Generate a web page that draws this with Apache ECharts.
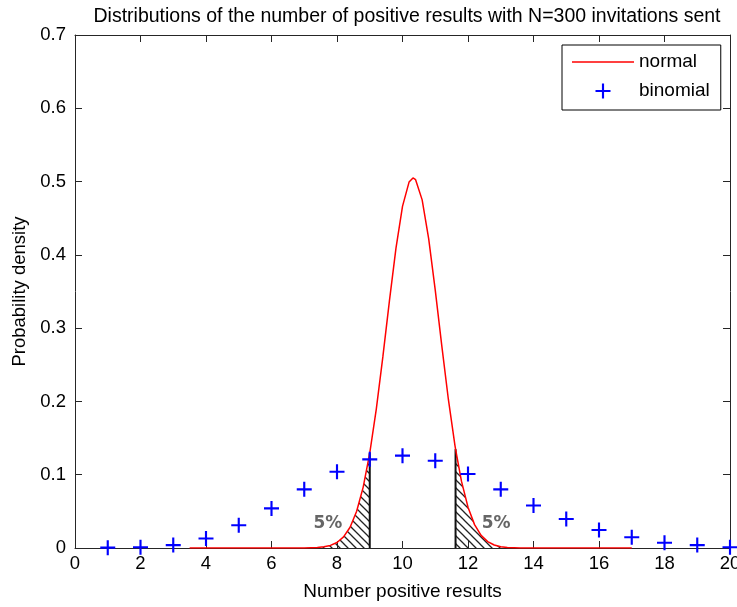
<!DOCTYPE html>
<html>
<head>
<meta charset="utf-8">
<script src="https://cdn.jsdelivr.net/npm/echarts@6/dist/echarts.min.js"></script>
<style>
html,body{margin:0;padding:0;background:#fff;}
#c{width:737px;height:607px;}
</style>
</head>
<body>
<div id="c"></div>
<script>
// ---- data ----
const titleText = 'Distributions of the number of positive results with N=300 invitations sent';
const xName = 'Number positive results';
const yName = 'Probability density';
const normalX = [3.5, 7.0, 7.4, 7.6, 7.8, 8.0, 8.2, 8.4, 8.6, 8.8, 9.0, 9.2, 9.4, 9.6, 9.8, 10.0, 10.2, 10.32, 10.4, 10.6, 10.8, 11.0, 11.2, 11.4, 11.6, 11.62, 11.8, 12.0, 12.2, 12.4, 12.6, 12.8, 13.0, 13.2, 13.6, 17.0];
const normalY = [0, 0.0001, 0.0006, 0.0016, 0.0035, 0.0075, 0.0151, 0.0283, 0.0501, 0.0831, 0.1295, 0.1895, 0.2607, 0.3368, 0.4088, 0.4662, 0.4993, 0.505, 0.5025, 0.4750, 0.4218, 0.3519, 0.2758, 0.2030, 0.1404, 0.1349, 0.0912, 0.0557, 0.0319, 0.0172, 0.0087, 0.0041, 0.0018, 0.0007, 0.0001, 0];
const binomX = [1, 2, 3, 4, 5, 6, 7, 8, 9, 10, 11, 12, 13, 14, 15, 16, 17, 18, 19, 20];
const binomY = [0.0005, 0.001, 0.004, 0.013, 0.031, 0.054, 0.080, 0.104, 0.121, 0.126, 0.119, 0.101, 0.080, 0.058, 0.0395, 0.0245, 0.0146, 0.0072, 0.004, 0.001];
const lowerCut = 9.0;      // 5% lower tail boundary
const upperCut = 11.62;    // 5% upper tail boundary
const noteX = [7.72, 12.86];
const noteY = [0.034, 0.034];
const noteText = ['5%', '5%'];

// ---- build ----
const normalPts = normalX.map((x, i) => [x, normalY[i]]);
const lowerTail = normalPts.filter(p => p[0] <= lowerCut);
const upperTail = normalPts.filter(p => p[0] >= upperCut);
const cutValue = x => normalY[normalX.indexOf(x)];

const hatch = document.createElement('canvas');
hatch.width = 8; hatch.height = 8;
(function(){
  const g = hatch.getContext('2d');
  g.strokeStyle = '#222';
  g.lineWidth = 1.3;
  g.beginPath();
  g.moveTo(-2, -2); g.lineTo(10, 10);
  g.moveTo(-2, 6); g.lineTo(2, 10);
  g.moveTo(6, -2); g.lineTo(10, 2);
  g.stroke();
})();

const plusPath = 'path://M0,6 H14 V8 H0 Z M6,0 H8 V14 H6 Z';
const linePath = 'path://M0,0 H62 V1.5 H0 Z';
const FONT = 'Liberation Sans';
const axisCol = '#262626';

const chart = echarts.init(document.getElementById('c'), null, {renderer: 'canvas'});
chart.setOption({
  animation: false,
  backgroundColor: '#fff',
  textStyle: {fontFamily: FONT},
  title: {
    text: titleText, left: 402, top: 2, textAlign: 'center',
    textStyle: {fontFamily: FONT, fontSize: 19.5, fontWeight: 'normal', color: '#000'}
  },
  grid: {left: 75, right: 7, top: 35, bottom: 59, containLabel: false, outerBoundsMode: 'none'},
  legend: {
    data: [{name: 'normal', icon: linePath}, {name: 'binomial'}],
    orient: 'vertical', left: 562, top: 45,
    padding: [7.5, 11, 9.5, 10],
    itemGap: 10, itemWidth: 62, itemHeight: 15,
    backgroundColor: '#fff', borderColor: '#000', borderWidth: 1, borderRadius: 0,
    textStyle: {fontFamily: FONT, fontSize: 19, color: '#000'},
    selectedMode: false
  },
  xAxis: [{
    type: 'value', min: 0, max: 20, interval: 2, position: 'bottom',
    name: xName, nameLocation: 'middle', nameGap: 34,
    nameTextStyle: {fontFamily: FONT, fontSize: 19, color: '#000'},
    axisLine: {show: true, onZero: false, lineStyle: {color: axisCol, width: 1}},
    axisTick: {show: true, inside: true, length: 7, lineStyle: {color: axisCol}},
    axisLabel: {fontFamily: FONT, fontSize: 18.5, color: '#000', margin: 6},
    splitLine: {show: false}
  }, {
    type: 'value', min: 0, max: 20, interval: 2, position: 'top',
    axisLine: {show: true, onZero: false, lineStyle: {color: axisCol, width: 1}},
    axisTick: {show: true, inside: true, length: 7, lineStyle: {color: axisCol}},
    axisLabel: {show: false}, splitLine: {show: false}
  }],
  yAxis: [{
    type: 'value', min: 0, max: 0.7, interval: 0.1, position: 'left',
    name: yName, nameLocation: 'middle', nameGap: 46, nameRotate: 90,
    nameTextStyle: {fontFamily: FONT, fontSize: 18.5, color: '#000'},
    axisLine: {show: true, onZero: false, lineStyle: {color: axisCol, width: 1}},
    axisTick: {show: true, inside: true, length: 7, lineStyle: {color: axisCol}},
    axisLabel: {fontFamily: FONT, fontSize: 18.5, color: '#000', margin: 9,
      formatter: v => (Math.abs(v) < 1e-9 ? '0' : v.toFixed(1))},
    splitLine: {show: false}
  }, {
    type: 'value', min: 0, max: 0.7, interval: 0.1, position: 'right',
    axisLine: {show: true, onZero: false, lineStyle: {color: axisCol, width: 1}},
    axisTick: {show: true, inside: true, length: 7, lineStyle: {color: axisCol}},
    axisLabel: {show: false}, splitLine: {show: false}
  }],
  series: [
    {
      name: 'lowerTail', type: 'line', data: lowerTail, showSymbol: false, silent: true,
      lineStyle: {width: 0, opacity: 0},
      areaStyle: {color: {image: hatch, repeat: 'repeat'}, opacity: 1}, z: 1
    },
    {
      name: 'upperTail', type: 'line', data: upperTail, showSymbol: false, silent: true,
      lineStyle: {width: 0, opacity: 0},
      areaStyle: {color: {image: hatch, repeat: 'repeat'}, opacity: 1}, z: 1
    },
    {
      name: 'lowerCut', type: 'line', data: [[lowerCut, 0], [lowerCut, cutValue(lowerCut)]],
      showSymbol: false, silent: true, lineStyle: {color: '#111', width: 2}, z: 2
    },
    {
      name: 'upperCut', type: 'line', data: [[upperCut, 0], [upperCut, cutValue(upperCut)]],
      showSymbol: false, silent: true, lineStyle: {color: '#111', width: 2}, z: 2
    },
    {
      name: 'normal', type: 'line', data: normalPts, showSymbol: false, symbol: 'none',
      lineStyle: {color: '#ff0000', width: 1.5}, itemStyle: {color: '#ff0000'}, z: 3
    },
    {
      name: 'binomial', type: 'scatter', data: binomX.map((x, i) => [x, binomY[i]]),
      symbol: plusPath, symbolSize: 15, symbolKeepAspect: true,
      itemStyle: {color: '#0000ff', opacity: 1}, z: 4
    },
    {
      name: 'notes', type: 'scatter', data: noteX.map((x, i) => [x, noteY[i], noteText[i]]),
      symbolSize: 0, silent: true,
      label: {show: true, position: 'inside', formatter: p => p.data[2],
        fontFamily: 'DejaVu Sans', fontSize: 17, fontWeight: 'bold', color: '#404040'}, z: 5
    }
  ]
});
</script>
</body>
</html>
